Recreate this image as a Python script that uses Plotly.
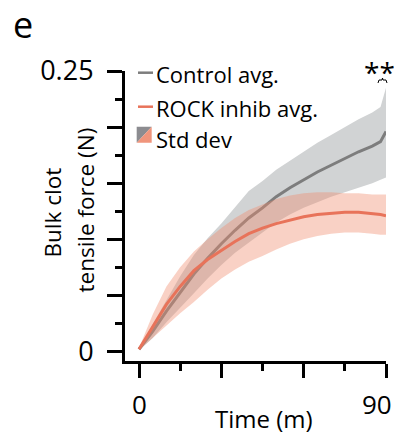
import plotly.graph_objects as go

# ---- data ----
time_min = [0, 5, 10, 15, 20, 25, 30, 35, 40, 45, 50, 55, 60, 65, 70, 75, 80, 85, 88, 90]
control_avg = [0.002, 0.018, 0.036, 0.053, 0.069, 0.083, 0.096, 0.108, 0.119, 0.128, 0.138, 0.146, 0.153,
               0.160, 0.166, 0.172, 0.178, 0.183, 0.187, 0.196]
control_hi = [0.003, 0.024, 0.046, 0.067, 0.086, 0.101, 0.114, 0.129, 0.143, 0.152, 0.162, 0.170, 0.178,
              0.186, 0.193, 0.200, 0.207, 0.213, 0.218, 0.235]
control_lo = [0.001, 0.012, 0.026, 0.039, 0.052, 0.065, 0.077, 0.088, 0.097, 0.106, 0.115, 0.122, 0.128,
              0.133, 0.138, 0.142, 0.146, 0.150, 0.153, 0.155]
rock_avg = [0.002, 0.022, 0.042, 0.058, 0.072, 0.082, 0.090, 0.098, 0.105, 0.110, 0.114, 0.117, 0.120,
            0.122, 0.123, 0.124, 0.124, 0.123, 0.122, 0.121]
rock_hi = [0.003, 0.033, 0.058, 0.075, 0.089, 0.100, 0.110, 0.119, 0.126, 0.131, 0.136, 0.139, 0.141,
           0.142, 0.142, 0.141, 0.141, 0.140, 0.140, 0.140]
rock_lo = [0.001, 0.012, 0.023, 0.034, 0.044, 0.055, 0.065, 0.073, 0.080, 0.085, 0.091, 0.096, 0.100,
           0.103, 0.105, 0.106, 0.106, 0.105, 0.104, 0.104]

y_ticks = [0, 0.05, 0.10, 0.15, 0.20, 0.25]
y_ticktext = ["0", "", "", "", "", "0.25"]
y_minor = [0.025, 0.075, 0.125, 0.175, 0.225]
x_ticks = [0, 30, 60, 90]
x_minor = [15, 45, 75]

GRAY_LINE = "#7d7d7d"
ORANGE_LINE = "#e8735a"
GRAY_BAND = "rgb(209,211,212)"
PINK_BAND = "rgba(240,140,110,0.40)"
FONT = "Open Sans"

W, H = 394, 436
ML, MR, MT, MB = 125, 8, 71, 75
PW, PH = W - ML - MR, H - MT - MB


def px(x):
    return (x - ML) / PW


def py(y):
    return (H - MB - y) / PH


fig = go.Figure()
fig.add_trace(go.Scatter(x=time_min + time_min[::-1], y=control_hi + control_lo[::-1], fill="toself",
                         fillcolor=GRAY_BAND, line=dict(width=0), mode="lines", hoverinfo="skip",
                         showlegend=False))
fig.add_trace(go.Scatter(x=time_min, y=control_avg, mode="lines", line=dict(color=GRAY_LINE, width=3),
                         name="Control avg.", showlegend=False))
fig.add_trace(go.Scatter(x=time_min + time_min[::-1], y=rock_hi + rock_lo[::-1], fill="toself",
                         fillcolor=PINK_BAND, line=dict(width=0), mode="lines", hoverinfo="skip",
                         showlegend=False))
fig.add_trace(go.Scatter(x=time_min, y=rock_avg, mode="lines", line=dict(color=ORANGE_LINE, width=3),
                         name="ROCK inhib avg.", showlegend=False))

shapes = [
    dict(type="line", xref="paper", yref="paper", x0=px(138), x1=px(153), y0=py(72.7), y1=py(72.7),
         line=dict(color=GRAY_LINE, width=2.5)),
    dict(type="line", xref="paper", yref="paper", x0=px(138), x1=px(153), y0=py(106.7), y1=py(106.7),
         line=dict(color=ORANGE_LINE, width=2.5)),
    dict(type="path", xref="paper", yref="paper",
         path=f"M {px(136.7)} {py(126.7)} L {px(151.7)} {py(126.7)} L {px(136.7)} {py(142.7)} Z",
         fillcolor="#8c8c90", line=dict(width=0)),
    dict(type="path", xref="paper", yref="paper",
         path=f"M {px(151.7)} {py(126.7)} L {px(151.7)} {py(142.7)} L {px(136.7)} {py(142.7)} Z",
         fillcolor="#f0957c", line=dict(width=0)),
    dict(type="path", xref="paper", yref="paper",
         path=(f"M {px(378)} {py(83)} L {px(379)} {py(80)} L {px(382)} {py(80)} L {px(382.5)} {py(78)} "
               f"L {px(383)} {py(80)} L {px(386)} {py(80)} L {px(387)} {py(83)}"),
         line=dict(color="black", width=1)),
]

ann = []


def add_text(text, x, y, size, xanchor="center", angle=0, xref="paper"):
    ann.append(dict(text=text, x=x, y=y, xref=xref, yref="paper", showarrow=False, xanchor=xanchor,
                    yanchor="middle", textangle=angle, font=dict(family=FONT, size=size, color="black")))


add_text("Control avg.", px(154), py(74), 22, xanchor="left")
add_text("ROCK inhib avg.", px(154), py(108), 22, xanchor="left")
add_text("Std dev", px(154), py(138.5), 22, xanchor="left")
add_text("**", px(379), py(72), 28)
add_text("Bulk clot", px(52), py(212.5), 22.5, angle=-90)
add_text("tensile force (N)", px(85), py(210.5), 22.5, angle=-90)
add_text("Time (m)", px(264), py(418), 24)
add_text("0", 0, py(404), 26, xref="x")
add_text("90", px(376.7), py(404), 26)
add_text("e", px(23), py(24.5), 36)

fig.update_layout(
    width=W, height=H, margin=dict(l=ML, r=MR, t=MT, b=MB),
    paper_bgcolor="white", plot_bgcolor="white",
    font=dict(family=FONT, color="black"),
    shapes=shapes, annotations=ann, showlegend=False,
    xaxis=dict(range=[-5.1, 90], showgrid=False, zeroline=False, showline=True, linecolor="black",
               linewidth=3, ticks="outside", ticklen=14, tickwidth=2.5, tickcolor="black",
               tickmode="array", tickvals=x_ticks, showticklabels=False,
               minor=dict(tickmode="array", tickvals=x_minor, ticks="outside", ticklen=7, tickwidth=2.5,
                          tickcolor="black", showgrid=False)),
    yaxis=dict(range=[-0.0085, 0.25], showgrid=False, zeroline=False, showline=True, linecolor="black",
               linewidth=3, ticks="outside", ticklen=15, tickwidth=2.5, tickcolor="black",
               tickmode="array", tickvals=y_ticks, ticktext=y_ticktext, tickfont=dict(size=27),
               ticklabelstandoff=8,
               minor=dict(tickmode="array", tickvals=y_minor, ticks="outside", ticklen=7, tickwidth=2.5,
                          tickcolor="black", showgrid=False)),
)

fig.write_html("out.html")
